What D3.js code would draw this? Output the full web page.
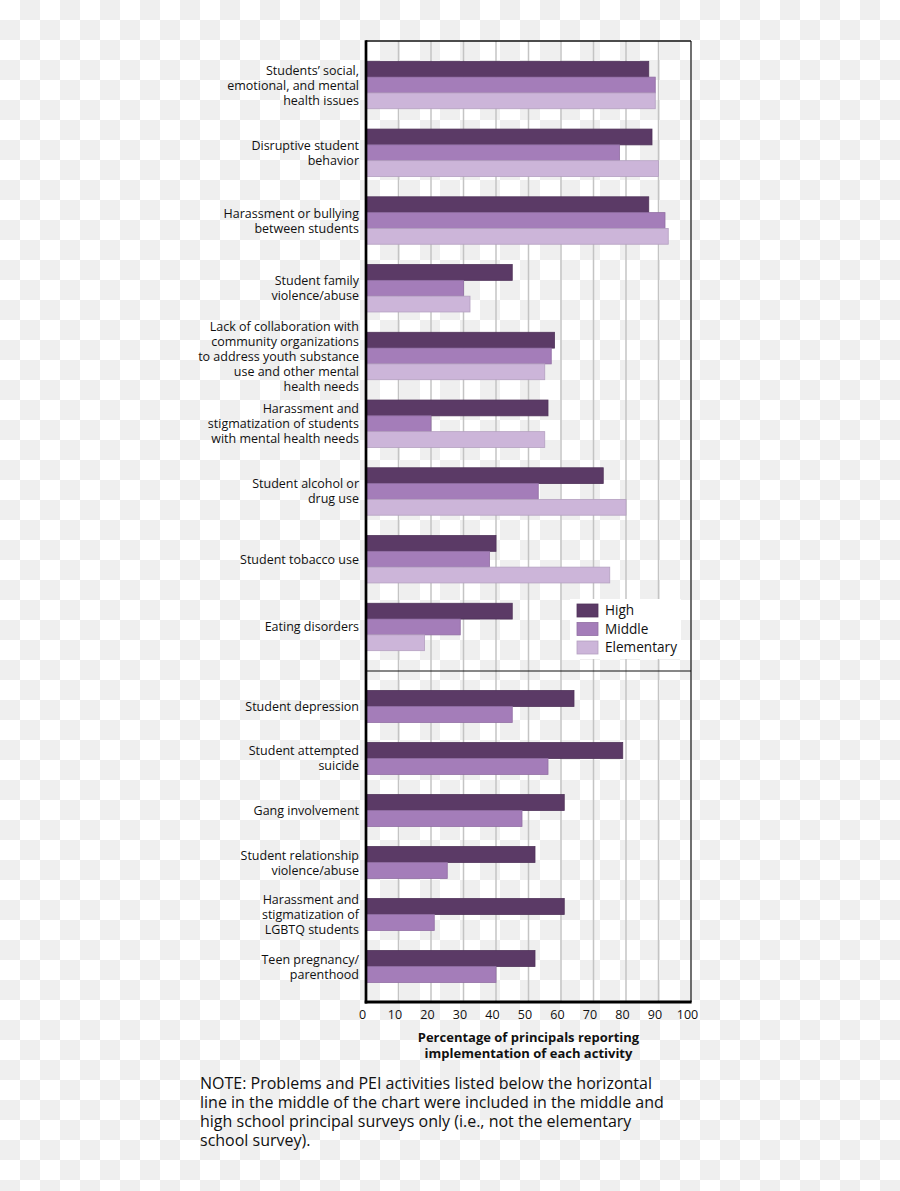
<!DOCTYPE html>
<html>
<head>
<meta charset="utf-8">
<script src="https://cdn.jsdelivr.net/npm/d3@7"></script>
<style>
  html, body { margin: 0; padding: 0; background: #fff; }
  svg { display: block; }
  text { font-family: "Open Sans", "Noto Sans", sans-serif; fill: #111; }
</style>
</head>
<body>
<svg id="chart" width="900" height="1191"></svg>
<script>
// ---------- data ----------
const series = ["High", "Middle", "Elementary"];
const seriesColors = ["#5b3a66", "#a47db9", "#ccb5d9"];

const topCategories = [
  "Students\u2019 social,\nemotional, and mental\nhealth issues",
  "Disruptive student\nbehavior",
  "Harassment or bullying\nbetween students",
  "Student family\nviolence/abuse",
  "Lack of collaboration with\ncommunity organizations\nto address youth substance\nuse and other mental\nhealth needs",
  "Harassment and\nstigmatization of students\nwith mental health needs",
  "Student alcohol or\ndrug use",
  "Student tobacco use",
  "Eating disorders"
];
const highTop       = [87, 88, 87, 45, 58, 56, 73, 40, 45];
const middleTop     = [89, 78, 92, 30, 57, 20, 53, 38, 29];
const elementaryTop = [89, 90, 93, 32, 55, 55, 80, 75, 18];

const bottomCategories = [
  "Student depression",
  "Student attempted\nsuicide",
  "Gang involvement",
  "Student relationship\nviolence/abuse",
  "Harassment and\nstigmatization of\nLGBTQ students",
  "Teen pregnancy/\nparenthood"
];
const highBottom   = [64, 79, 61, 52, 61, 52];
const middleBottom = [45, 56, 48, 25, 21, 40];

const tickValues = [0, 10, 20, 30, 40, 50, 60, 70, 80, 90, 100];
const axisTitle = ["Percentage of principals reporting", "implementation of each activity"];
const noteLines = [
  "NOTE: Problems and PEI activities listed below the horizontal",
  "line in the middle of the chart were included in the middle and",
  "high school principal surveys only (i.e., not the elementary",
  "school survey)."
];

// ---------- layout ----------
const W = 900, H = 1191;
const plotLeft = 366, plotRight = 691;
const plotTop = 41, sepY = 671, plotBottom = 1002;

const svg = d3.select("#chart");

// checkerboard background (transparent-image look)
const defs = svg.append("defs");
const pat = defs.append("pattern").attr("id", "checker")
  .attr("width", 40).attr("height", 40).attr("patternUnits", "userSpaceOnUse");
pat.append("rect").attr("width", 40).attr("height", 40).attr("fill", "#ffffff");
pat.append("rect").attr("x", 20).attr("y", 0).attr("width", 20).attr("height", 20).attr("fill", "#efefef");
pat.append("rect").attr("x", 0).attr("y", 20).attr("width", 20).attr("height", 20).attr("fill", "#efefef");
svg.append("rect").attr("width", W).attr("height", H).attr("fill", "url(#checker)");

const x = d3.scaleLinear().domain([0, 100]).range([plotLeft, plotRight]);

const yTop = d3.scaleBand().domain(topCategories).range([plotTop, sepY])
  .paddingInner(0.3).paddingOuter(0.3);
const yBottom = d3.scaleBand().domain(bottomCategories).range([sepY, plotBottom])
  .paddingInner(0.385).paddingOuter(0.375);

const ySubTop = d3.scaleBand().domain(series).range([0, yTop.bandwidth()]);
const ySubBottom = d3.scaleBand().domain(series.slice(0, 2)).range([0, yBottom.bandwidth()]);
const color = d3.scaleOrdinal().domain(series).range(seriesColors);

// gridlines
svg.append("g").selectAll("line")
  .data(tickValues.filter(d => d > 0 && d < 100))
  .join("line")
  .attr("x1", d => x(d)).attr("x2", d => x(d))
  .attr("y1", plotTop).attr("y2", plotBottom)
  .attr("stroke", "#c4c4c4").attr("stroke-width", 1.5);

// bars
const topRows = topCategories.map((c, i) => ({
  cat: c, vals: [highTop[i], middleTop[i], elementaryTop[i]]
}));
const bottomRows = bottomCategories.map((c, i) => ({
  cat: c, vals: [highBottom[i], middleBottom[i]]
}));

function drawBars(rows, yScale, sub) {
  const g = svg.append("g");
  rows.forEach(r => {
    r.vals.forEach((v, j) => {
      const s = series[j];
      g.append("rect")
        .attr("x", x(0))
        .attr("y", yScale(r.cat) + sub(s))
        .attr("width", x(v) - x(0))
        .attr("height", sub.bandwidth())
        .attr("fill", color(s))
        .attr("stroke", d3.color(color(s)).darker(0.35))
        .attr("stroke-width", 0.8);
    });
  });
}
drawBars(topRows, yTop, ySubTop);
drawBars(bottomRows, yBottom, ySubBottom);

// category labels
function drawLabels(cats, yScale) {
  const g = svg.append("g").attr("font-size", 12.5).attr("text-anchor", "end");
  cats.forEach(c => {
    const lines = c.split("\n");
    const cy = yScale(c) + yScale.bandwidth() / 2;
    const lh = 15;
    const t = g.append("text").attr("x", plotLeft - 7);
    lines.forEach((ln, k) => {
      t.append("tspan").attr("x", plotLeft - 7)
        .attr("y", cy + (k - (lines.length - 1) / 2) * lh)
        .attr("dy", "0.36em").text(ln);
    });
  });
}
drawLabels(topCategories, yTop);
drawLabels(bottomCategories, yBottom);

// separator line
svg.append("line").attr("x1", plotLeft).attr("x2", plotRight)
  .attr("y1", sepY).attr("y2", sepY).attr("stroke", "#111").attr("stroke-width", 1.2);

// frame
svg.append("line").attr("x1", plotLeft).attr("x2", plotRight)
  .attr("y1", plotTop).attr("y2", plotTop).attr("stroke", "#111").attr("stroke-width", 1.5);
svg.append("line").attr("x1", plotRight).attr("x2", plotRight)
  .attr("y1", plotTop).attr("y2", plotBottom).attr("stroke", "#111").attr("stroke-width", 1.2);
svg.append("line").attr("x1", plotLeft).attr("x2", plotLeft)
  .attr("y1", plotTop - 0.75).attr("y2", plotBottom + 1.5).attr("stroke", "#000").attr("stroke-width", 2.7);
svg.append("line").attr("x1", plotLeft - 1.3).attr("x2", plotRight + 0.6)
  .attr("y1", plotBottom).attr("y2", plotBottom).attr("stroke", "#000").attr("stroke-width", 3);

// x axis
const axis = d3.axisBottom(x).tickValues(tickValues).tickSize(0).tickPadding(8)
  .tickFormat(d3.format("d"));
const ag = svg.append("g").attr("transform", `translate(0,${plotBottom})`).call(axis);
ag.select(".domain").remove();
ag.selectAll("text").attr("font-size", 12.5).attr("font-family", "'Open Sans', 'Noto Sans', sans-serif")
  .attr("fill", "#111").attr("dx", -4);

// axis title
const tt = svg.append("text").attr("text-anchor", "middle").attr("font-size", 13)
  .attr("font-weight", "bold");
axisTitle.forEach((ln, k) => {
  tt.append("tspan").attr("x", (plotLeft + plotRight) / 2).attr("y", 1042 + k * 16).text(ln);
});

// legend
const lg = svg.append("g");
lg.append("rect").attr("x", 570).attr("y", 599).attr("width", 111).attr("height", 60).attr("fill", "#fff");
series.forEach((s, i) => {
  lg.append("rect").attr("x", 577).attr("y", 604 + i * 18.5).attr("width", 21).attr("height", 13)
    .attr("fill", color(s)).attr("stroke", d3.color(color(s)).darker(0.35)).attr("stroke-width", 0.8);
  lg.append("text").attr("x", 605).attr("y", 610.5 + i * 18.5).attr("dy", "0.36em")
    .attr("font-size", 13.6).text(s);
});

// note
const nt = svg.append("text").attr("font-size", 16);
noteLines.forEach((ln, k) => {
  nt.append("tspan").attr("x", 200).attr("y", 1089 + k * 19).text(ln);
});
</script>
</body>
</html>
